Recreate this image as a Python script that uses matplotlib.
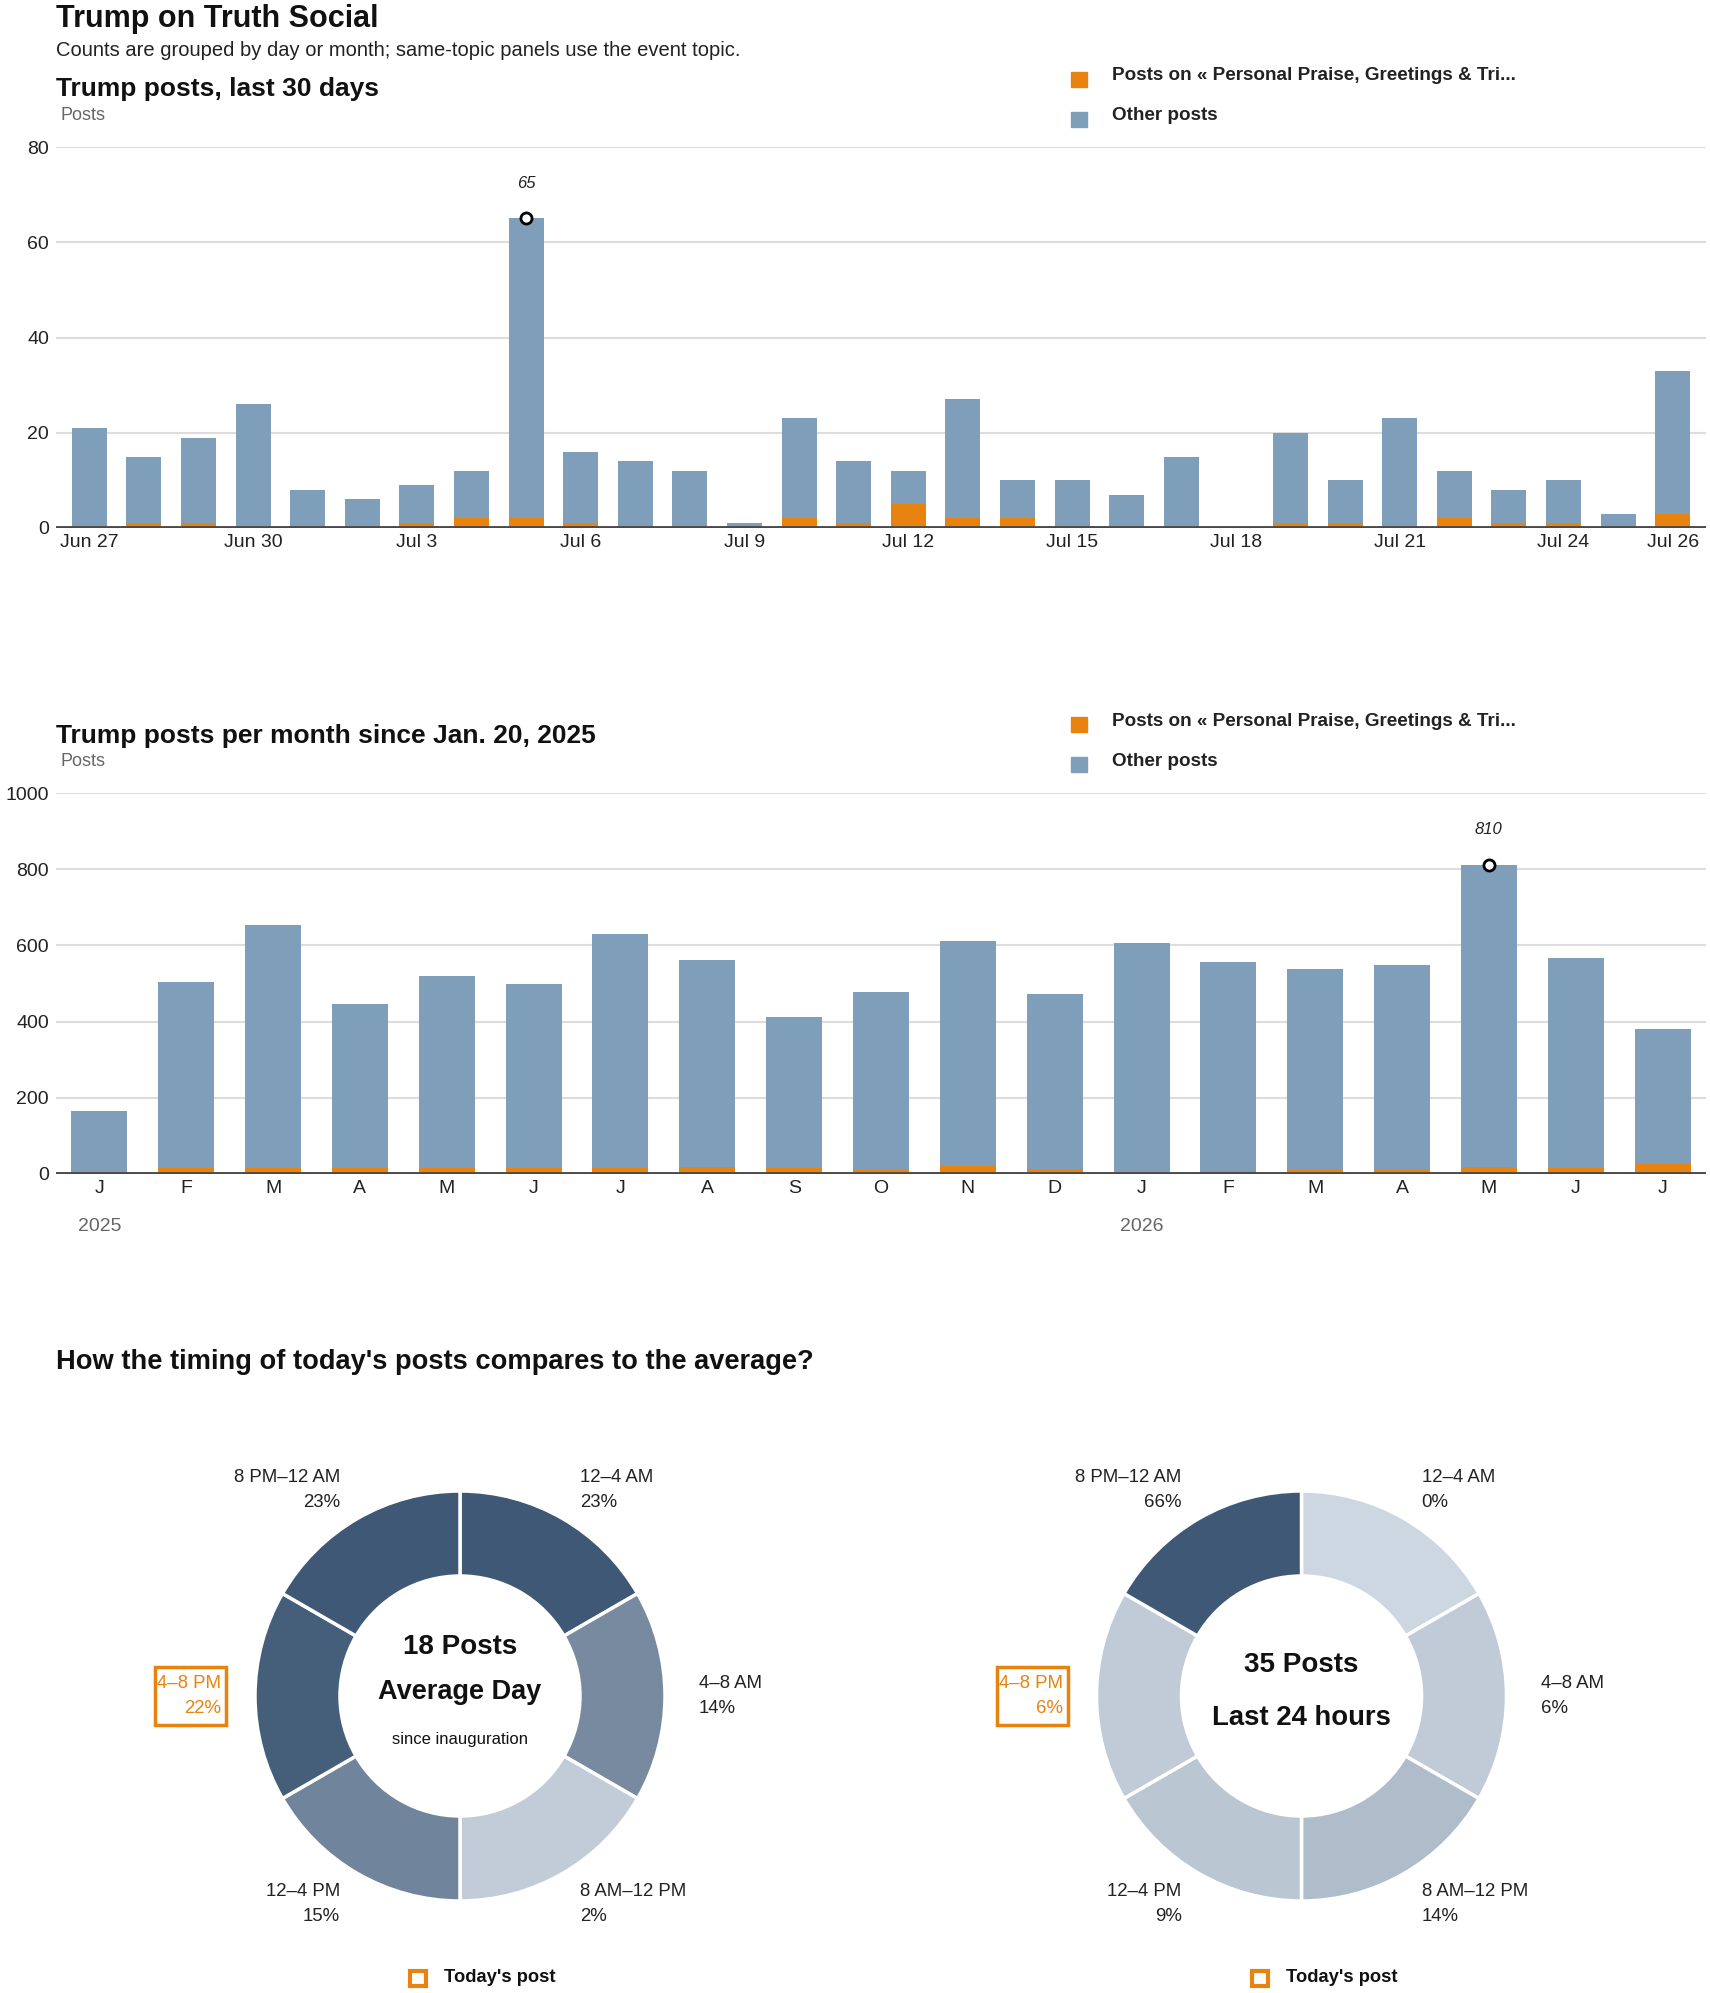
import numpy as np
import matplotlib
matplotlib.use("Agg")
import matplotlib.pyplot as plt
from matplotlib.patches import Rectangle

W, H = 1710, 1993

# daily posts, last 30 days
day_labels = ['Jun 27', 'Jun 28', 'Jun 29', 'Jun 30', 'Jul 1', 'Jul 2', 'Jul 3', 'Jul 4',
              'Jul 5', 'Jul 6', 'Jul 7', 'Jul 8', 'Jul 9', 'Jul 10', 'Jul 11', 'Jul 12',
              'Jul 13', 'Jul 14', 'Jul 15', 'Jul 16', 'Jul 17', 'Jul 18', 'Jul 19', 'Jul 20',
              'Jul 21', 'Jul 22', 'Jul 23', 'Jul 24', 'Jul 25', 'Jul 26']
day_total = [21, 15, 19, 26, 8, 6, 9, 12, 65, 16, 14, 12, 1, 23, 14, 12,
             27, 10, 10, 7, 15, 0, 20, 10, 23, 12, 8, 10, 3, 33]
day_topic = [0, 1, 1, 0, 0, 0, 1, 2, 2, 1, 0, 0, 0, 2, 1, 5,
             2, 2, 0, 0, 0, 0, 1, 1, 0, 2, 1, 1, 0, 3]
day_ticks = [0, 3, 6, 9, 12, 15, 18, 21, 24, 27, 29]

# monthly posts since inauguration
month_labels = ['J', 'F', 'M', 'A', 'M', 'J', 'J', 'A', 'S', 'O', 'N', 'D',
                'J', 'F', 'M', 'A', 'M', 'J', 'J']
month_total = [165, 504, 654, 447, 520, 499, 630, 562, 412, 477, 612, 473,
               607, 556, 538, 549, 810, 567, 381]
month_topic = [5, 17, 17, 17, 17, 17, 17, 19, 17, 10, 21, 13,
               5, 7, 10, 10, 19, 17, 26]
year_labels = {0: '2025', 12: '2026'}

# time-of-day shares (%)
slots = ['12–4 AM', '4–8 AM', '8 AM–12 PM', '12–4 PM', '4–8 PM', '8 PM–12 AM']
share_avg = [23, 14, 2, 15, 22, 23]
share_today = [0, 6, 14, 9, 6, 66]
today_slot = 4
avg_posts = 18
today_posts = 35

ORANGE = '#e8830f'
BLUE = '#7f9eba'
GRID = '#dddddd'
DARK = '#222222'
GREY = '#666666'
NARROW = ['Liberation Sans Narrow', 'Liberation Sans', 'DejaVu Sans']
WIDE = ['Liberation Sans', 'DejaVu Sans']

plt.rcParams['font.family'] = NARROW

fig = plt.figure(figsize=(W / 100, H / 100), dpi=100)


def fx(px):
    return px / W


def fy(py):
    return 1 - py / H


def add_axes_px(left, top, width, height):
    return fig.add_axes([left / W, 1 - (top + height) / H, width / W, height / H])


def legend_px(y):
    fig.add_artist(Rectangle((fx(1071), fy(y + 8)), 16 / W, 15 / H, color=ORANGE,
                             transform=fig.transFigure))
    fig.text(fx(1112), fy(y - 3), 'Posts on « Personal Praise, Greetings & Tri...',
             family=WIDE, weight='bold', fontsize=13.6, color=DARK, va='center')
    fig.add_artist(Rectangle((fx(1071), fy(y + 48)), 16 / W, 15 / H, color=BLUE,
                             transform=fig.transFigure))
    fig.text(fx(1112), fy(y + 37), 'Other posts',
             family=WIDE, weight='bold', fontsize=13.6, color=DARK, va='center')


def style_bar_axes(ax, ymax, step):
    for s in ax.spines.values():
        s.set_visible(False)
    ax.set_ylim(0, ymax)
    ax.set_yticks(np.arange(0, ymax + 1, step))
    ax.yaxis.grid(True, color=GRID, lw=1.5)
    ax.set_axisbelow(True)
    ax.tick_params(length=0, labelsize=14, colors=DARK)
    ax.tick_params(axis='y', pad=5)
    ax.tick_params(axis='x', pad=4)
    ax.axhline(0, color='#4a4a4a', lw=3.5, zorder=5)


def stacked(ax, total, topic, width):
    x = np.arange(len(total))
    other = np.array(total) - np.array(topic)
    ax.bar(x, topic, width=width, color=ORANGE, zorder=3)
    ax.bar(x, other, bottom=topic, width=width, color=BLUE, zorder=3)
    i = int(np.argmax(total))
    ax.plot(i, total[i], 'o', ms=8, mfc='white', mec='black', mew=2, zorder=6)
    return x, i


# header
fig.text(fx(56), fy(19), 'Trump on Truth Social', fontsize=22, weight='bold',
         color='#111111', va='center')
fig.text(fx(56), fy(51), 'Counts are grouped by day or month; same-topic panels use the event topic.',
         fontsize=14.5, color=DARK, va='center')

# daily panel
fig.text(fx(56), fy(89), 'Trump posts, last 30 days', fontsize=19, weight='bold',
         color='#111111', va='center')
fig.text(fx(60), fy(116), 'Posts', fontsize=13, color=GREY, va='center')
legend_px(79)
ax1 = add_axes_px(56, 147, 1650, 381)
x1, i1 = stacked(ax1, day_total, day_topic, 0.64)
style_bar_axes(ax1, 80, 20)
ax1.set_xlim(-0.61, 29.61)
ax1.set_xticks(day_ticks)
ax1.set_xticklabels([day_labels[i] for i in day_ticks])
ax1.annotate(str(day_total[i1]), (i1, day_total[i1]), xytext=(0, 35),
             textcoords='offset pixels', ha='center', va='center',
             fontsize=12, style='italic', color=DARK)

# monthly panel
fig.text(fx(56), fy(736), 'Trump posts per month since Jan. 20, 2025', fontsize=19,
         weight='bold', color='#111111', va='center')
fig.text(fx(60), fy(762), 'Posts', fontsize=13, color=GREY, va='center')
legend_px(724)
ax2 = add_axes_px(56, 793, 1650, 381)
x2, i2 = stacked(ax2, month_total, month_topic, 0.645)
style_bar_axes(ax2, 1000, 200)
ax2.set_xlim(-0.5, len(month_total) - 0.5)
ax2.set_xticks(x2)
ax2.set_xticklabels(month_labels)
for k, yr in year_labels.items():
    ax2.text(k, -0.139, yr, transform=ax2.get_xaxis_transform(), ha='center',
             va='center', fontsize=14, color=GREY)
ax2.annotate(str(month_total[i2]), (i2, month_total[i2]), xytext=(0, 36),
             textcoords='offset pixels', ha='center', va='center',
             fontsize=12, style='italic', color=DARK)

# timing section
fig.text(fx(56), fy(1362), "How the timing of today's posts compares to the average?",
         family=WIDE, fontsize=19.6, weight='bold', color='#111111', va='center')

LIGHT = np.array([205, 215, 225]) / 255
DEEP = np.array([63, 88, 117]) / 255


def donut(cx, shares, center_lines):
    ax = add_axes_px(cx - 350, 1696 - 350, 700, 700)
    t = np.array(shares) / max(shares)
    cols = [tuple(LIGHT + (DEEP - LIGHT) * v) for v in t]
    ax.pie([1] * len(shares), radius=205, startangle=90, counterclock=False,
           colors=cols, wedgeprops=dict(width=85, edgecolor='white', linewidth=2.5))
    ax.set_xlim(-350, 350)
    ax.set_ylim(-350, 350)
    ax.axis('off')
    # label anchors around the ring (dx, dy of first line, alignment)
    spots = [(120, 219, 'left'), (239, 13, 'left'), (120, -195, 'left'),
             (-120, -195, 'right'), (-239, 13, 'right'), (-120, 219, 'right')]
    for k, (dx, dy, ha) in enumerate(spots):
        col = ORANGE if k == today_slot else DARK
        ax.text(dx, dy, slots[k], ha=ha, va='center', fontsize=13.4, color=col)
        ax.text(dx, dy - 25, f'{shares[k]}%', ha=ha, va='center', fontsize=13.4, color=col)
    ax.add_patch(Rectangle((-305, -29), 71, 58, fill=False, ec=ORANGE, lw=2.5,
                           clip_on=False))
    for dy, txt, size, wt in center_lines:
        ax.text(0, dy, txt, ha='center', va='center', fontsize=size, weight=wt,
                color='#111111')
    # today's post legend
    ax.add_patch(Rectangle((-50, -290), 16, 15, fill=False, ec=ORANGE, lw=3,
                           clip_on=False))
    ax.text(-16, -281, "Today's post", family=WIDE, ha='left', va='center',
            fontsize=13.2, weight='bold', color='#111111')


donut(460, share_avg, [(49, f'{avg_posts} Posts', 20, 'bold'),
                       (4, 'Average Day', 19.5, 'bold'),
                       (-43, 'since inauguration', 12, 'normal')])
donut(1301.5, share_today, [(31, f'{today_posts} Posts', 20, 'bold'),
                            (-22, 'Last 24 hours', 19.8, 'bold')])

fig.savefig('out.png', dpi=100, facecolor='white')
